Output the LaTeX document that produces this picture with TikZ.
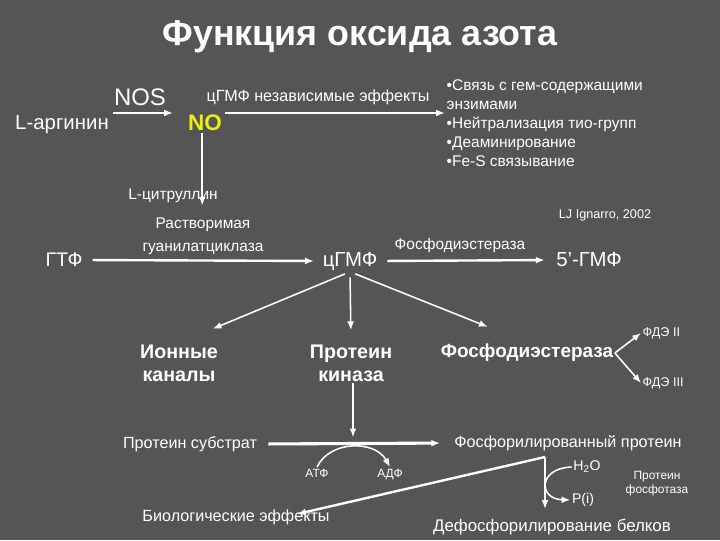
\documentclass[tikz,border=0pt]{standalone}
\usepackage{fontspec}
\setmainfont{Liberation Sans}
\usetikzlibrary{arrows.meta, positioning}
\definecolor{SlideGray}{RGB}{85,85,85}
\definecolor{NoYellow}{RGB}{238,238,20}

\begin{document}
\begin{tikzpicture}[
  x=0.025cm, y=-0.025cm,
  label/.style={text=white, inner sep=1pt, align=center},
  tiny/.style={label, font=\fontsize{8.5}{10}\selectfont},
  small/.style={label, font=\fontsize{11}{13.5}\selectfont},
  mid/.style={label, font=\fontsize{14.5}{17}\selectfont},
  heavy/.style={label, font=\bfseries\fontsize{14}{16.5}\selectfont},
  arrow/.style={-{Latex[length=2.2mm, width=1.7mm]}, draw=white, line width=1.7pt},
  slim/.style={arrow, line width=1.1pt}
]
\fill[SlideGray] (0,0) rectangle (720,540);
\useasboundingbox (0,0) rectangle (720,540);

\node[label, font=\bfseries\fontsize{25.5}{30}\selectfont] (title) at (360,37) {Функция оксида азота};

% NO synthesis
\node[label, font=\fontsize{17}{20}\selectfont] (nos) at (140,97) {NOS};
\node[label, font=\fontsize{14.5}{17}\selectfont] (arg) at (62,125) {L-аргинин};
\node[label, text=NoYellow, font=\bfseries\fontsize{16}{19}\selectfont] (no) at (205,123) {NO};
\node[small] (cit) at (173,196) {L-цитруллин};
\node[small, font=\fontsize{11.5}{14}\selectfont] (indep) at (318,97) {цГМФ независимые эффекты};
\node[small, align=left, anchor=north west] (bul) at (445,78)
  {•Связь с гем-содержащими\\энзимами\\•Нейтрализация тио-групп\\•Деаминирование\\•Fe-S связывание};
\node[label, font=\fontsize{9}{11}\selectfont] (ref) at (605,215) {LJ Ignarro, 2002};

\coordinate (argR) at (113,113);
\coordinate (noL) at (173,113);
\coordinate (noR) at (225,113);
\draw[arrow] (argR) -- (noL);
\draw[arrow] (noR) -- (bul.west |- noR);
\draw[arrow] ([xshift=-2pt]no.south) -- ++(0,73);

% cGMP
\node[mid, font=\fontsize{14}{17}\selectfont] (gtp) at (64,260) {ГТФ};
\node[small, font=\fontsize{11}{16.5}\selectfont] (sgc) at (203,236) {Растворимая\\гуанилатциклаза};
\node[mid] (cgmp) at (350,261) {цГМФ};
\node[small] (pdelab) at (460,245) {Фосфодиэстераза};
\node[mid] (gmp5) at (589,260) {5’-ГМФ};

\draw[arrow, shorten <=6pt, shorten >=5pt] (gtp.east) -- (cgmp.west);
\draw[arrow, shorten <=6pt, shorten >=7pt] (cgmp.east) -- (gmp5.west);

% targets
\node[heavy] (ion) at (179,363) {Ионные\\каналы};
\node[heavy] (pk) at (351,363) {Протеин\\киназа};
\node[heavy, font=\bfseries\fontsize{13.5}{16}\selectfont] (pde) at (527,353) {Фосфодиэстераза};
\node[label, font=\fontsize{9}{11}\selectfont, anchor=west] (fde2) at (641,333) {ФДЭ II};
\node[label, font=\fontsize{9}{11}\selectfont, anchor=west] (fde3) at (641,383) {ФДЭ III};

\draw[slim, shorten <=4pt, shorten >=26pt] (cgmp.south) -- (ion.north);
\draw[slim, shorten <=4pt, shorten >=9pt] (cgmp.south) -- (pk.north);
\draw[slim, shorten <=4pt, shorten >=30pt] (cgmp.south) -- (pde.north);
\draw[slim] (pde.east) -- (fde2.west);
\draw[slim] (pde.east) -- (fde3.west);

% phosphorylation
\node[small, font=\fontsize{11.5}{14}\selectfont] (sub) at (190,444) {Протеин субстрат};
\node[small, font=\fontsize{11.5}{14}\selectfont] (phos) at (568,443) {Фосфорилированный протеин};
\node[tiny, anchor=base] (atf) at (317,477) {АТФ};
\node[tiny, anchor=base] (adf) at (390,477) {АДФ};
\node[small, font=\fontsize{11.5}{14}\selectfont] (bio) at (236,517) {Биологические эффекты};
\node[small, font=\fontsize{12}{14}\selectfont] (deph) at (552,527) {Дефосфорилирование белков};
\node[label, font=\fontsize{10}{12}\selectfont] (h2o) at (587,467) {H\textsubscript{2}O};
\node[label, font=\fontsize{10}{12}\selectfont] (pi) at (583,500) {P(i)};
\node[tiny] (ppase) at (657,484) {Протеин\\фосфотаза};

\coordinate (jn) at (353,443);
\coordinate (ph) at (545,457);
\coordinate (bioTip) at (297,514);

\draw[arrow, shorten >=4pt] (pk.south -| jn) -- (jn);
\draw[arrow, line width=2.2pt, shorten <=7pt, shorten >=9pt] (sub.east) -- (phos.west);
\draw[slim] (atf.north) .. controls (330,440) and (375,440) .. (adf.north);
\draw[arrow] (ph) -- (bioTip);
\draw[slim, shorten >=6pt] (ph) -- (ph |- deph.north);
\draw[slim] (h2o.west) .. controls (538,468) and (538,499) .. (pi.west);
\end{tikzpicture}
\end{document}
